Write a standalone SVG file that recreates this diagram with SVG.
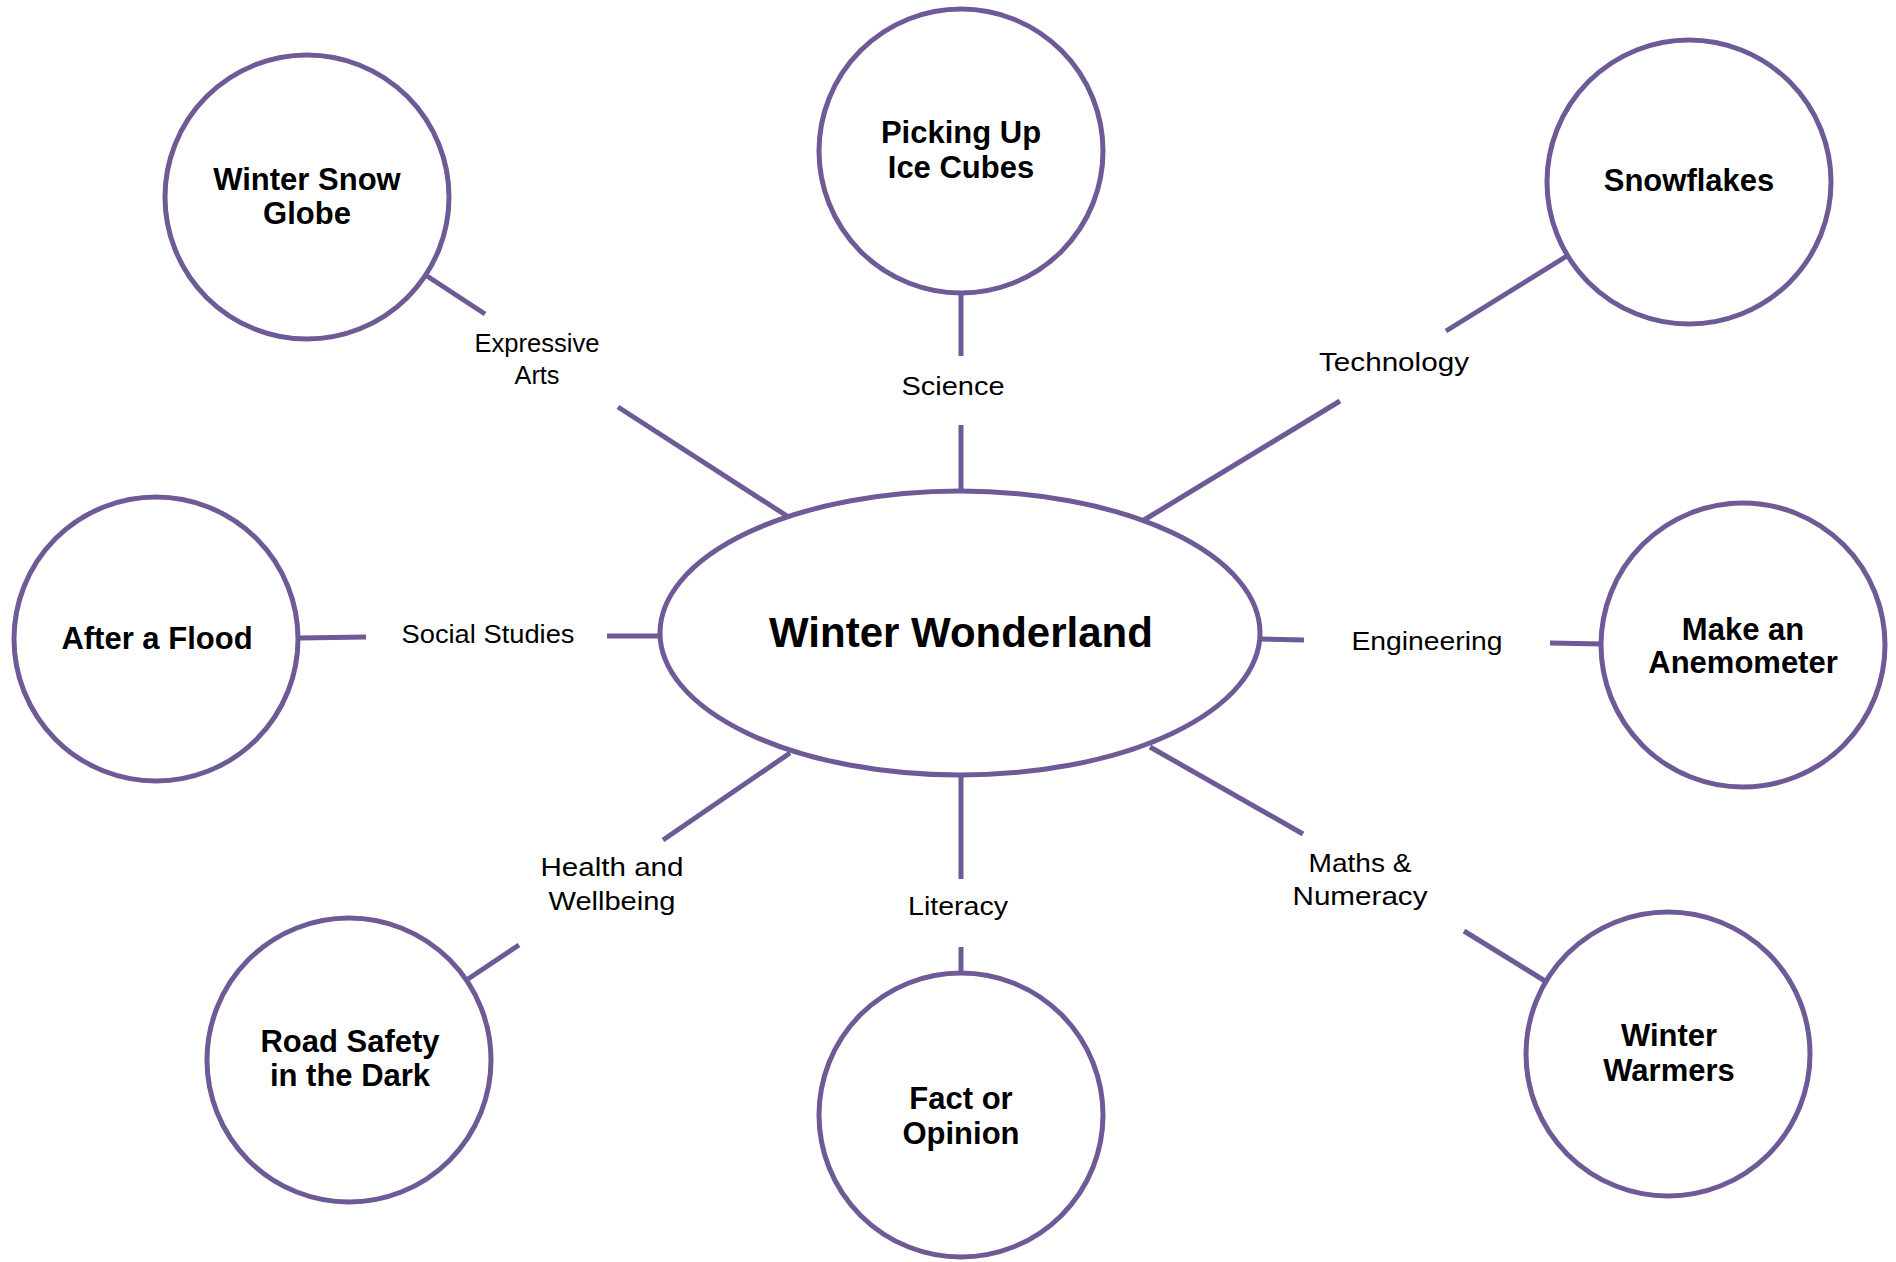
<svg xmlns="http://www.w3.org/2000/svg" width="1896" height="1262" viewBox="0 0 1896 1262">
<style>
.n{fill:#fff;stroke:#6E5A96;stroke-width:5}
.c line{stroke:#6E5A96;stroke-width:5}
.t{font-family:"Liberation Sans",Arial,sans-serif;font-weight:bold;font-size:31px;fill:#000;text-anchor:middle}
.l{font-family:"Liberation Sans",Arial,sans-serif;font-size:25px;fill:#000;text-anchor:middle}
</style>
<rect width="1896" height="1262" fill="#fff"/>
<g class="c" id="connectors">
<line x1="427" y1="276" x2="485" y2="314"/>
<line x1="618" y1="407" x2="787" y2="516"/>
<line x1="961" y1="293" x2="961" y2="356"/>
<line x1="961" y1="425" x2="961" y2="492"/>
<line x1="1567" y1="256" x2="1446" y2="331"/>
<line x1="1340" y1="401" x2="1144" y2="520"/>
<line x1="299" y1="638" x2="366" y2="637"/>
<line x1="607" y1="636" x2="660" y2="636"/>
<line x1="1260" y1="639" x2="1304" y2="640"/>
<line x1="1550" y1="643" x2="1602" y2="644"/>
<line x1="790" y1="753" x2="663" y2="840"/>
<line x1="519" y1="945" x2="468" y2="979"/>
<line x1="961" y1="775" x2="961" y2="879"/>
<line x1="961" y1="947" x2="961" y2="973"/>
<line x1="1150" y1="747" x2="1303" y2="834"/>
<line x1="1464" y1="931" x2="1545" y2="981"/>
<text class="l" x="537" y="352" textLength="125" lengthAdjust="spacingAndGlyphs">Expressive</text>
<text class="l" x="537" y="384" textLength="45" lengthAdjust="spacingAndGlyphs">Arts</text>
<text class="l" x="953" y="395" textLength="103" lengthAdjust="spacingAndGlyphs">Science</text>
<text class="l" x="1394" y="371" textLength="150" lengthAdjust="spacingAndGlyphs">Technology</text>
<text class="l" x="488" y="643" textLength="173" lengthAdjust="spacingAndGlyphs">Social Studies</text>
<text class="l" x="1427" y="650" textLength="151" lengthAdjust="spacingAndGlyphs">Engineering</text>
<text class="l" x="612" y="876" textLength="143" lengthAdjust="spacingAndGlyphs">Health and</text>
<text class="l" x="612" y="910" textLength="127" lengthAdjust="spacingAndGlyphs">Wellbeing</text>
<text class="l" x="958" y="915" textLength="100" lengthAdjust="spacingAndGlyphs">Literacy</text>
<text class="l" x="1360" y="872" textLength="103" lengthAdjust="spacingAndGlyphs">Maths &amp;</text>
<text class="l" x="1360" y="905" textLength="135" lengthAdjust="spacingAndGlyphs">Numeracy</text>
</g>
<g id="center">
<ellipse class="n" cx="960" cy="633" rx="300" ry="142"/>
<text class="t" x="961" y="647" style="font-size:42px">Winter Wonderland</text>
</g>
<g id="snow-globe">
<circle class="n" cx="307" cy="197" r="142"/>
<text class="t" x="307" y="190">Winter Snow</text>
<text class="t" x="307" y="224">Globe</text>
</g>
<g id="ice-cubes">
<circle class="n" cx="961" cy="151" r="142"/>
<text class="t" x="961" y="143">Picking Up</text>
<text class="t" x="961" y="178">Ice Cubes</text>
</g>
<g id="snowflakes">
<circle class="n" cx="1689" cy="182" r="142"/>
<text class="t" x="1689" y="191">Snowflakes</text>
</g>
<g id="flood">
<circle class="n" cx="156" cy="639" r="142"/>
<text class="t" x="157" y="649">After a Flood</text>
</g>
<g id="anemometer">
<circle class="n" cx="1743" cy="645" r="142"/>
<text class="t" x="1743" y="640">Make an</text>
<text class="t" x="1743" y="673">Anemometer</text>
</g>
<g id="road-safety">
<circle class="n" cx="349" cy="1060" r="142"/>
<text class="t" x="350" y="1052">Road Safety</text>
<text class="t" x="350" y="1086">in the Dark</text>
</g>
<g id="fact-opinion">
<circle class="n" cx="961" cy="1115" r="142"/>
<text class="t" x="961" y="1109">Fact or</text>
<text class="t" x="961" y="1144">Opinion</text>
</g>
<g id="winter-warmers">
<circle class="n" cx="1668" cy="1054" r="142"/>
<text class="t" x="1669" y="1046">Winter</text>
<text class="t" x="1669" y="1081">Warmers</text>
</g>
</svg>
